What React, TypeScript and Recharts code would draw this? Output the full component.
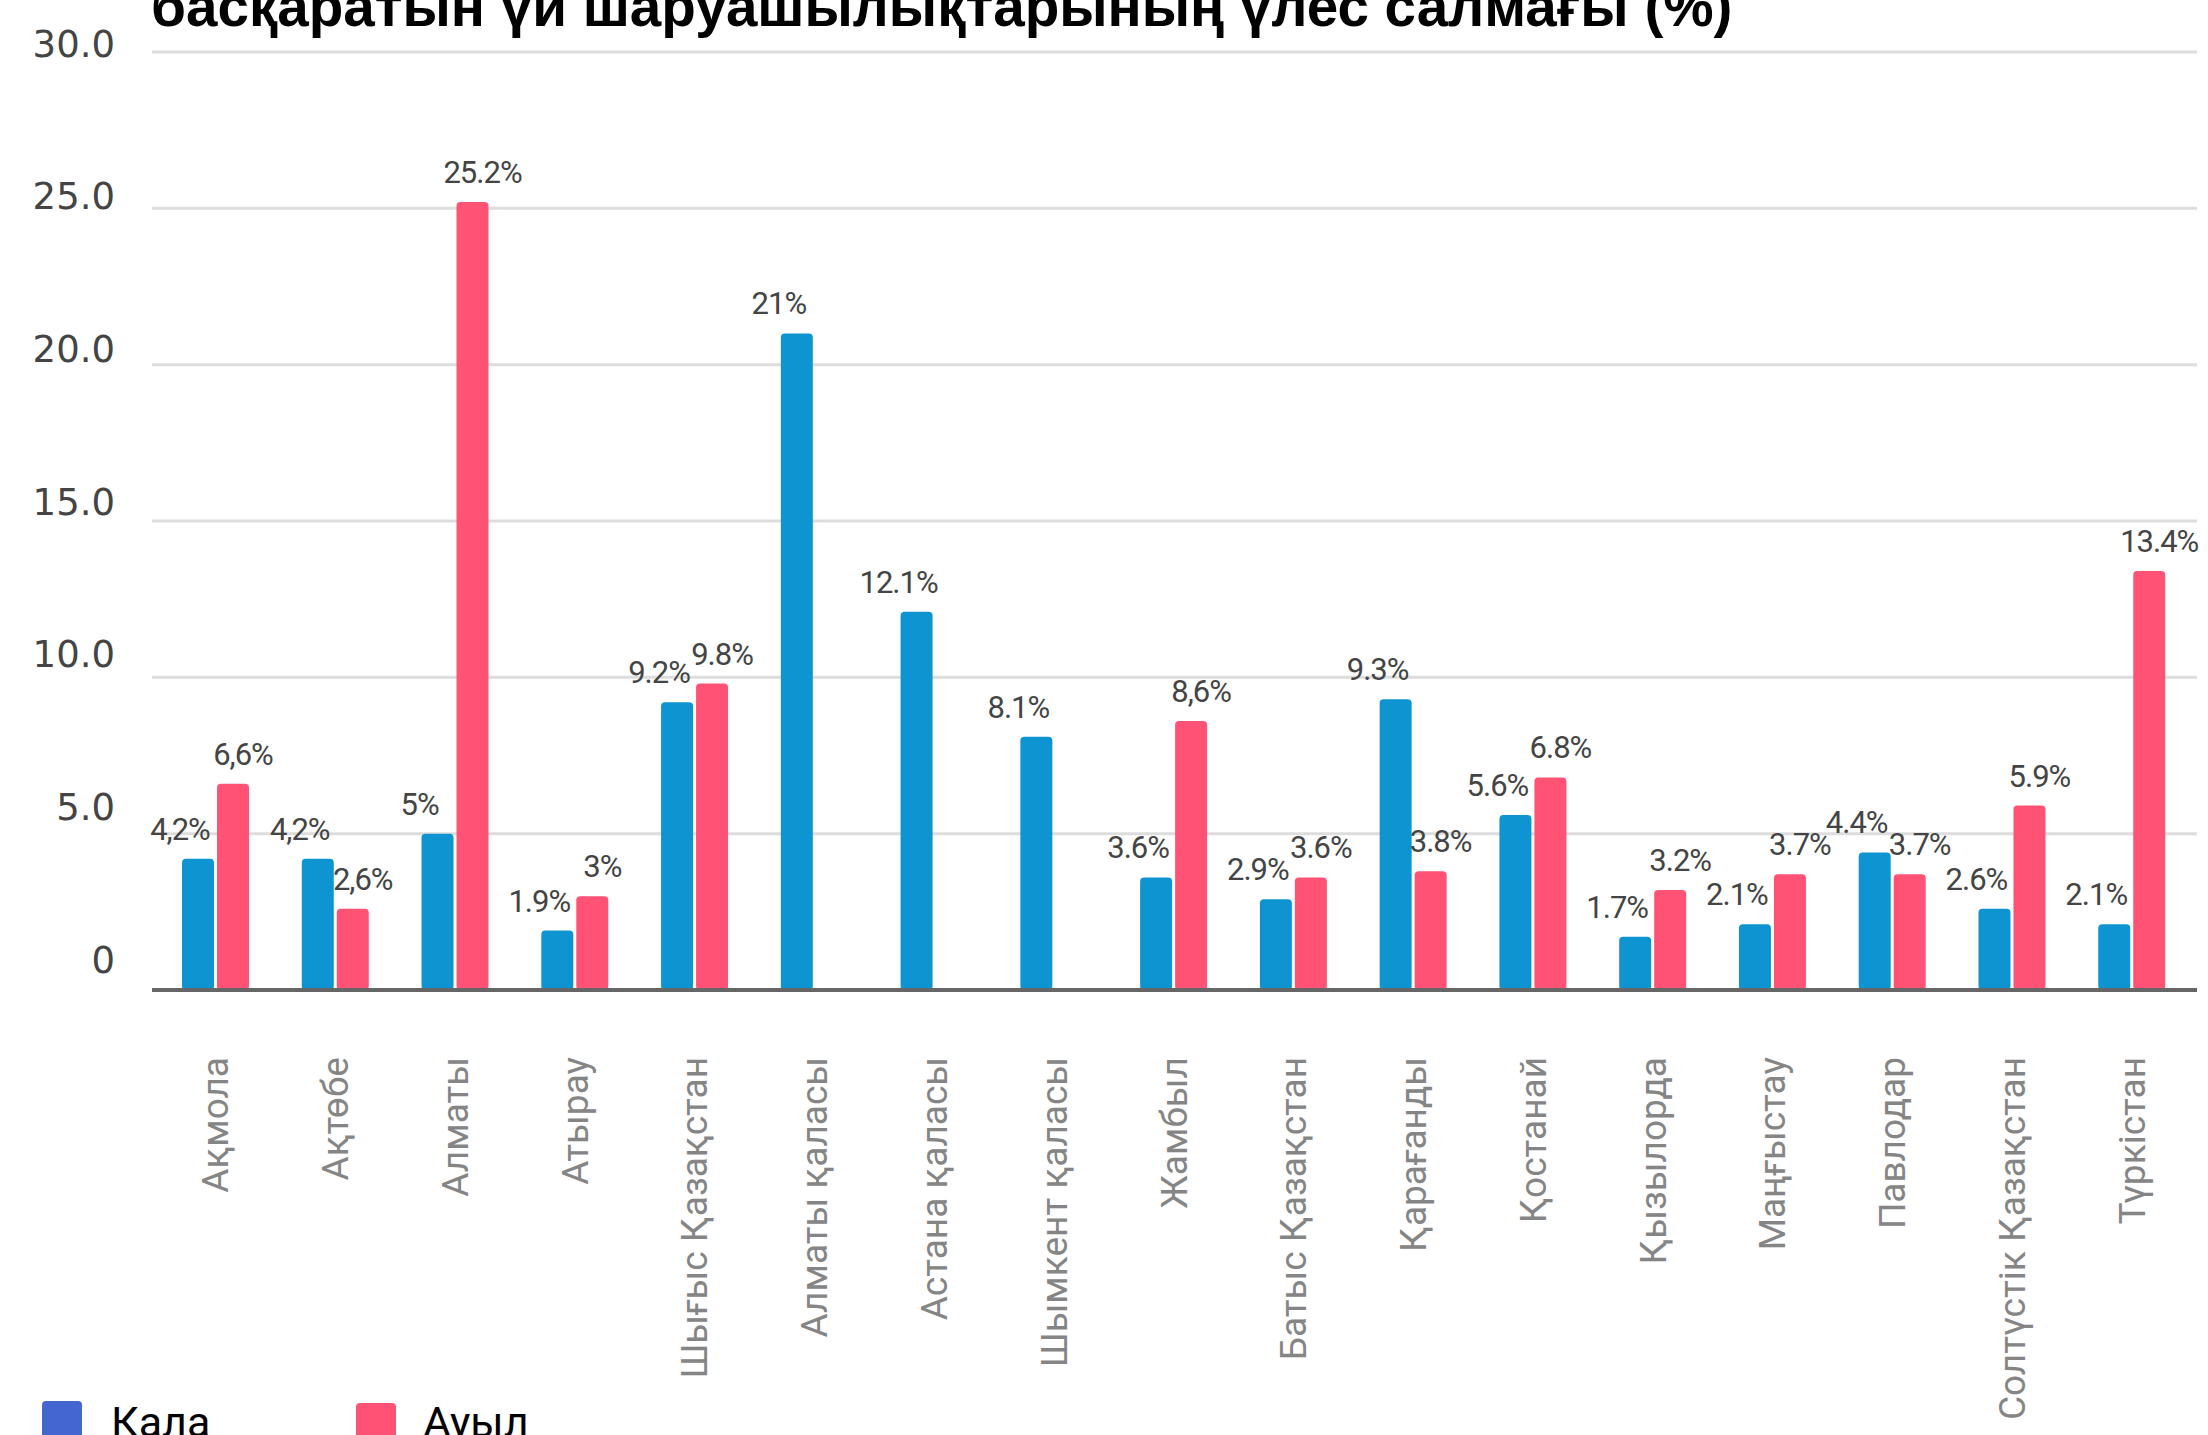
import { BarChart, Bar, XAxis, YAxis, CartesianGrid, LabelList } from 'recharts';

const regions = [
  'Ақмола', 'Ақтөбе', 'Алматы', 'Атырау', 'Шығыс Қазақстан', 'Алматы қаласы',
  'Астана қаласы', 'Шымкент қаласы', 'Жамбыл', 'Батыс Қазақстан', 'Қарағанды',
  'Қостанай', 'Қызылорда', 'Маңғыстау', 'Павлодар', 'Солтүстік Қазақстан', 'Түркістан',
];

const kala = [4.2, 4.2, 5, 1.9, 9.2, 21, 12.1, 8.1, 3.6, 2.9, 9.3, 5.6, 1.7, 2.1, 4.4, 2.6, 2.1];
const auyl = [6.6, 2.6, 25.2, 3, 9.8, null, null, null, 8.6, 3.6, 3.8, 6.8, 3.2, 3.7, 3.7, 5.9, 13.4];

const kalaLabels = ['4,2%', '4,2%', '5%', '1.9%', '9.2%', '21%', '12.1%', '8.1%', '3.6%', '2.9%', '9.3%', '5.6%', '1.7%', '2.1%', '4.4%', '2.6%', '2.1%'];
const auylLabels = ['6,6%', '2,6%', '25.2%', '3%', '9.8%', null, null, null, '8,6%', '3.6%', '3.8%', '6.8%', '3.2%', '3.7%', '3.7%', '5.9%', '13.4%'];

const yTicks = [0, 5, 10, 15, 20, 25, 30];
const yTickLabels = ['0', '5.0', '10.0', '15.0', '20.0', '25.0', '30.0'];

const title = 'басқаратын үй шаруашылықтарының үлес салмағы (%)';

const KALA_COLOR = '#0e94d0';
const KALA_LEGEND = '#4466d0';
const AUYL_COLOR = '#ff5274';

const rows = regions.map((name, i) => ({
  name,
  kala: kala[i],
  auyl: auyl[i],
  kalaLabel: kalaLabels[i],
  auylLabel: auylLabels[i],
}));

function YTick({ x, y, payload }: any) {
  const idx = yTicks.indexOf(payload.value);
  // labels in the source sit a little above their grid lines, more so lower down
  const dy = -8 - (30 - payload.value) * 0.73;
  return (
    <text x={x} y={y + dy} textAnchor="end" dominantBaseline="central"
      fontFamily="DejaVu Sans" fontSize={37} fill="#444">
      {yTickLabels[idx]}
    </text>
  );
}

function XTick({ x, y, payload }: any) {
  return (
    <text x={x} y={y} transform={`rotate(-90, ${x}, ${y})`} textAnchor="end"
      dominantBaseline="central" fontFamily="Roboto" fontSize={37} fill="#858585">
      {payload.value}
    </text>
  );
}

function barLabel(dx: number) {
  return (props: any) => {
    const { x, y, width, value } = props;
    if (value == null) return null;
    return (
      <text x={x + width / 2 + dx} y={y - 19} textAnchor="middle" fontFamily="Roboto"
        fontSize={31} letterSpacing={-1} fill="#444">
        {value}
      </text>
    );
  };
}

export default function App() {
  return (
    <div style={{ position: 'absolute', left: 0, top: 0, width: 2208, height: 1435, overflow: 'hidden', background: '#fff' }}>
      <BarChart width={2208} height={1435} data={rows} barGap={3}
        margin={{ top: 52, right: 11, bottom: 0, left: 0 }}>
        <CartesianGrid vertical={false} stroke="#dddddd" strokeWidth={3} />
        <XAxis dataKey="name" interval={0} height={445} padding={{ left: 4, right: 5 }}
          axisLine={{ stroke: '#666', strokeWidth: 4 }} tickLine={false}
          tickSize={0} tickMargin={67} tick={<XTick />} />
        <YAxis domain={[0, 30]} ticks={yTicks} width={152} axisLine={false}
          tickLine={false} tickSize={0} tickMargin={37} tick={<YTick />} />
        <Bar dataKey="kala" fill={KALA_COLOR} barSize={32} radius={4} isAnimationActive={false}>
          <LabelList dataKey="kalaLabel" content={barLabel(-18)} />
        </Bar>
        <Bar dataKey="auyl" fill={AUYL_COLOR} barSize={32} radius={4} isAnimationActive={false}>
          <LabelList dataKey="auylLabel" content={barLabel(10)} />
        </Bar>
      </BarChart>
      <svg width={2208} height={1435} style={{ position: 'absolute', left: 0, top: 0, pointerEvents: 'none' }}>
        <text x={151} y={26} fontFamily="Liberation Sans" fontWeight="bold" fontSize={56.6} fill="#000">
          {title}
        </text>
        <rect x={42} y={1401} width={40} height={40} rx={4} fill={KALA_LEGEND} />
        <text x={111} y={1437} fontFamily="Roboto" fontSize={43} fill="#000">Кала</text>
        <rect x={356} y={1403} width={40} height={40} rx={4} fill={AUYL_COLOR} />
        <text x={423} y={1437} fontFamily="Roboto" fontSize={43} fill="#000">Ауыл</text>
      </svg>
    </div>
  );
}
